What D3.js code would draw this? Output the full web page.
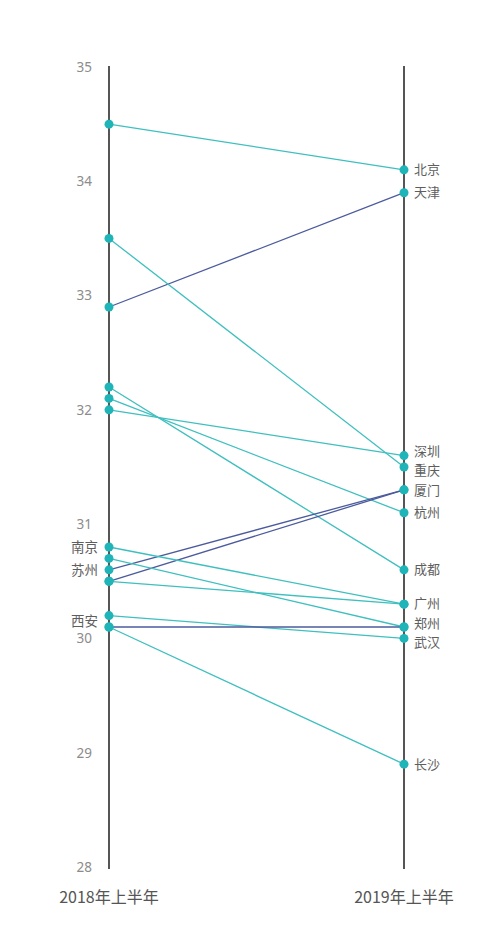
<!DOCTYPE html>
<html><head><meta charset="utf-8">
<script src="https://cdn.jsdelivr.net/npm/d3@7"></script>
<style>
html,body{margin:0;padding:0;background:#fff;}
text{font-family:"Noto Sans CJK SC","Noto Sans",sans-serif;}
</style></head>
<body><svg id="chart" width="500" height="944"></svg>
<script>
const periods = ["2018年上半年", "2019年上半年"];
const cities = ["北京","天津","重庆","深圳","杭州","成都","厦门","苏州","南京","广州","郑州","武汉","西安","长沙"];
const values2018 = [34.5, 32.9, 33.5, 32.0, 32.1, 32.2, 30.5, 30.6, 30.8, 30.5, 30.7, 30.2, 30.1, 30.1];
const values2019 = [34.1, 33.9, 31.5, 31.6, 31.1, 30.6, 31.3, 31.3, 30.3, 30.3, 30.1, 30.0, 30.1, 28.9];
const leftLabelCities = ["南京","苏州","西安"];
const tickValues = [28, 29, 30, 31, 32, 33, 34, 35];

const svg = d3.select("#chart");
const xLeft = 109, xRight = 404;
const x = d3.scalePoint().domain(periods).range([xLeft, xRight]);
const y = d3.scaleLinear().domain([28, 35]).range([867, 67]);

const teal = "#1eb4b8", tealLine = "#3fbfbf", dark = "#4b5b9d";

// axes lines
periods.forEach(p => {
  svg.append("line").attr("x1", x(p)).attr("x2", x(p))
    .attr("y1", y(35) - 1).attr("y2", y(28) + 2)
    .attr("stroke", "#2b2b2b").attr("stroke-width", 1.6);
});

// tick labels on left axis
const axis = d3.axisLeft(y).tickValues(tickValues).tickFormat(d3.format("d")).tickSize(0).tickPadding(17);
const gAxis = svg.append("g").attr("transform", `translate(${xLeft},0)`).call(axis);
gAxis.select(".domain").remove();
gAxis.selectAll("text").attr("font-size", 13.5).attr("fill", "#8c8c8c")
  .style("font-family", '"Noto Sans","Open Sans",sans-serif');

// data rows
const rows = cities.map((c, i) => ({city: c, a: values2018[i], b: values2019[i]}));

// lines
svg.append("g").selectAll("line").data(rows).join("line")
  .attr("x1", x(periods[0])).attr("x2", x(periods[1]))
  .attr("y1", d => y(d.a)).attr("y2", d => y(d.b))
  .attr("stroke", d => d.b >= d.a ? dark : tealLine)
  .attr("stroke-width", 1.3);

// dots
const dots = [];
rows.forEach(d => { dots.push({x: x(periods[0]), v: d.a}); dots.push({x: x(periods[1]), v: d.b}); });
svg.append("g").selectAll("circle").data(dots).join("circle")
  .attr("cx", d => d.x).attr("cy", d => y(d.v)).attr("r", 4.5).attr("fill", teal);

// label collision helper
function spread(items, gap) {
  items.sort((p, q) => p.y - q.y);
  for (let it = 0; it < 200; it++) {
    let moved = false;
    for (let i = 1; i < items.length; i++) {
      const p = items[i - 1], q = items[i];
      const d = q.y - p.y;
      if (d < gap - 0.01) {
        const push = (gap - d);
        if (p.fixed && !q.fixed) q.y += push;
        else if (q.fixed && !p.fixed) p.y -= push;
        else if (!p.fixed && !q.fixed) { p.y -= push / 2; q.y += push / 2; }
        moved = true;
      }
    }
    if (!moved) break;
  }
  return items;
}

// right labels
const rightItems = rows.filter(d => !leftLabelCities.includes(d.city))
  .map(d => ({city: d.city, y: y(d.b)}));
spread(rightItems, 19.5);
svg.append("g").selectAll("text").data(rightItems).join("text")
  .attr("x", xRight + 10).attr("y", d => d.y).attr("dy", "0.35em")
  .attr("font-size", 13).attr("fill", "#5e5e5e").text(d => d.city);

// left labels (avoid tick labels)
const leftItems = rows.filter(d => leftLabelCities.includes(d.city))
  .map(d => ({city: d.city, y: y(d.a)}));
const allLeft = leftItems.concat(tickValues.map(t => ({y: y(t), fixed: true})));
spread(allLeft, 17);
svg.append("g").selectAll("text").data(leftItems).join("text")
  .attr("x", xLeft - 11).attr("y", d => d.y).attr("dy", "0.35em")
  .attr("text-anchor", "end")
  .attr("font-size", 13.5).attr("fill", "#5e5e5e").text(d => d.city);

// period labels
svg.append("g").selectAll("text").data(periods).join("text")
  .attr("x", d => x(d)).attr("y", 897).attr("dy", "0.35em")
  .attr("text-anchor", "middle").attr("font-size", 16).attr("fill", "#555")
  .text(d => d);
</script></body></html>
